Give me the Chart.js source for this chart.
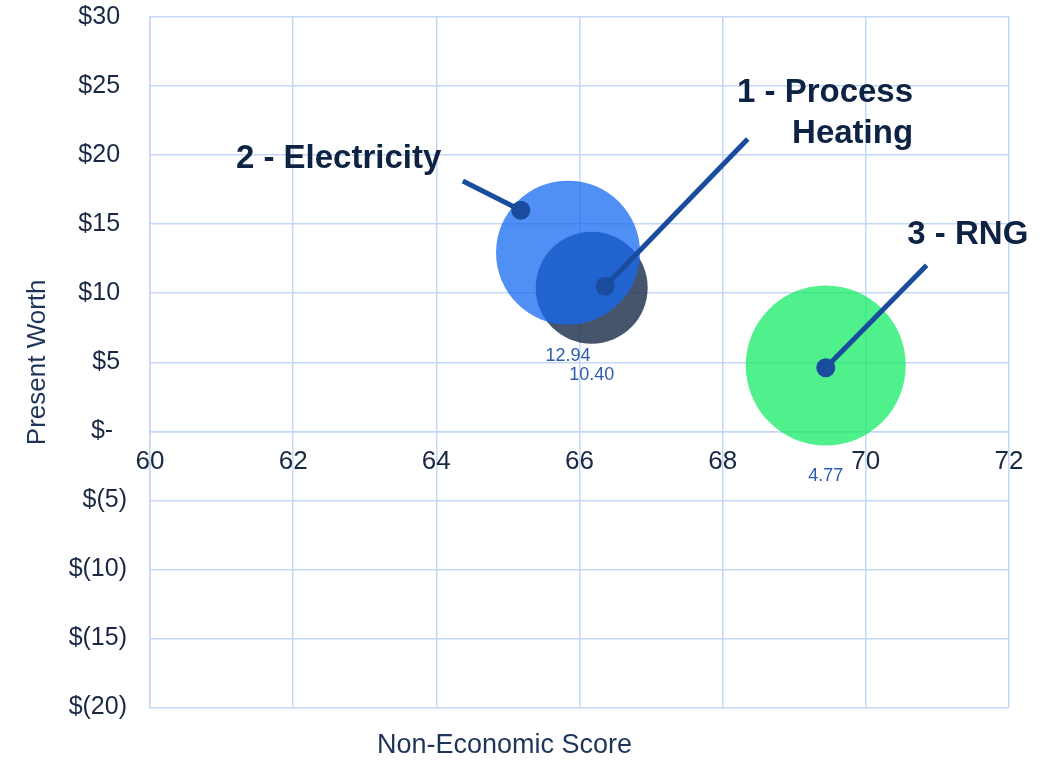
<!DOCTYPE html>
<html>
<head>
<meta charset="utf-8">
<script src="https://cdn.jsdelivr.net/npm/chart.js@4.4.1/dist/chart.umd.min.js"></script>
<style>
  html, body { margin: 0; padding: 0; background: #ffffff; }
  #wrap { width: 1059px; height: 762px; }
</style>
</head>
<body>
<div id="wrap"><canvas id="chart" width="1059" height="762"></canvas></div>
<script>
// Alternatives, drawn in this order so Electricity sits over Process Heating
const alternatives = ['1 - Process Heating', '2 - Electricity', '3 - RNG'];
const nonEconomicScore = [66.17, 65.84, 69.44];
const presentWorth = [10.40, 12.94, 4.77];
const bubbleSize = [56, 72, 80];

const xTicks = { min: 60, max: 72, step: 2 };
const yTicks = { min: -20, max: 30, step: 5 };

const bubbleColors = ['rgba(38,54,82,0.85)', 'rgba(21,107,241,0.75)', 'rgba(21,235,101,0.75)'];
const gridColor = '#c3d8f7';
const tickColor = '#1a2943';
const titleColor = '#1f3458';
const font = '"Liberation Sans", Arial, sans-serif';

// Callout captions with leader lines: text anchor, line start and end in data units
const callouts = [
  { lines: ['1 - Process', 'Heating'], align: 'right', tx: 70.66, ty: 23.84, from: [68.35, 21.16], to: [66.36, 10.51] },
  { lines: ['2 - Electricity'], align: 'left', tx: 61.20, ty: 19.06, from: [64.37, 18.12], to: [65.18, 16.01] },
  { lines: ['3 - RNG'], align: 'left', tx: 70.58, ty: 13.55, from: [70.85, 12.03], to: [69.44, 4.60] }
];

function money(v) {
  if (v === 0) return '$-  ';
  if (v < 0) return '$(' + (-v) + ')';
  return '$' + v + ' ';
}

const valueLabels = {
  id: 'valueLabels',
  afterDatasetsDraw(chart) {
    const ctx = chart.ctx;
    const meta = chart.getDatasetMeta(0);
    ctx.save();
    ctx.font = '18px ' + font;
    ctx.fillStyle = '#2d5cae';
    ctx.textAlign = 'center';
    ctx.textBaseline = 'middle';
    meta.data.forEach((el, i) => {
      ctx.fillText(presentWorth[i].toFixed(2), el.x, el.y + bubbleSize[i] + 31);
    });
    ctx.restore();
  }
};

const calloutPlugin = {
  id: 'callouts',
  afterDatasetsDraw(chart) {
    const ctx = chart.ctx;
    const xs = chart.scales.x, ys = chart.scales.y;
    ctx.save();
    callouts.forEach(c => {
      const x1 = xs.getPixelForValue(c.from[0]), y1 = ys.getPixelForValue(c.from[1]);
      const x2 = xs.getPixelForValue(c.to[0]), y2 = ys.getPixelForValue(c.to[1]);
      ctx.strokeStyle = '#1a4c9e';
      ctx.fillStyle = '#1a4c9e';
      ctx.lineWidth = 5;
      ctx.lineCap = 'butt';
      ctx.beginPath();
      ctx.moveTo(x1, y1);
      ctx.lineTo(x2, y2);
      ctx.stroke();
      ctx.beginPath();
      ctx.arc(x2, y2, 9.5, 0, Math.PI * 2);
      ctx.fill();

      ctx.font = 'bold 33px ' + font;
      ctx.fillStyle = '#0e2243';
      ctx.textAlign = c.align;
      ctx.textBaseline = 'alphabetic';
      const tx = xs.getPixelForValue(c.tx), ty = ys.getPixelForValue(c.ty);
      c.lines.forEach((line, k) => ctx.fillText(line, tx, ty + k * 41));
    });
    ctx.restore();
  }
};

new Chart(document.getElementById('chart'), {
  type: 'bubble',
  data: {
    datasets: [{
      label: 'Alternatives',
      data: alternatives.map((name, i) => ({ x: nonEconomicScore[i], y: presentWorth[i], r: bubbleSize[i] })),
      backgroundColor: bubbleColors,
      borderWidth: 0,
      hoverBorderWidth: 0,
      clip: false
    }]
  },
  options: {
    responsive: false,
    animation: false,
    events: [],
    layout: { autoPadding: false, padding: { top: 17, right: 50, left: 0, bottom: 0 } },
    plugins: {
      legend: { display: false },
      tooltip: { enabled: false },
      title: {
        display: true,
        position: 'bottom',
        text: 'Non-Economic Score',
        color: titleColor,
        font: { family: font, size: 27, weight: 'normal' },
        padding: { top: 22, bottom: 0 }
      }
    },
    scales: {
      x: {
        type: 'linear',
        position: { y: 0 },
        min: xTicks.min, max: xTicks.max,
        ticks: { stepSize: xTicks.step, color: tickColor, font: { family: font, size: 26 }, padding: 15 },
        grid: { color: gridColor, lineWidth: 1.5, drawTicks: false },
        border: { color: gridColor, width: 1.5 }
      },
      y: {
        type: 'linear',
        position: 'left',
        min: yTicks.min, max: yTicks.max,
        afterFit(scale) {
          scale.width = 150;
          scale.paddingTop = 0;
          scale.paddingBottom = 0;
        },
        ticks: { stepSize: yTicks.step, color: tickColor, font: { family: font, size: 25 }, padding: 23, callback: v => money(v) },
        grid: { color: gridColor, lineWidth: 1.5, drawTicks: false },
        border: { color: gridColor, width: 1.5 },
        title: {
          display: true,
          text: 'Present Worth',
          color: titleColor,
          font: { family: font, size: 26 },
          padding: { top: 22, bottom: 0 }
        }
      }
    }
  },
  plugins: [valueLabels, calloutPlugin]
});
</script>
</body>
</html>
